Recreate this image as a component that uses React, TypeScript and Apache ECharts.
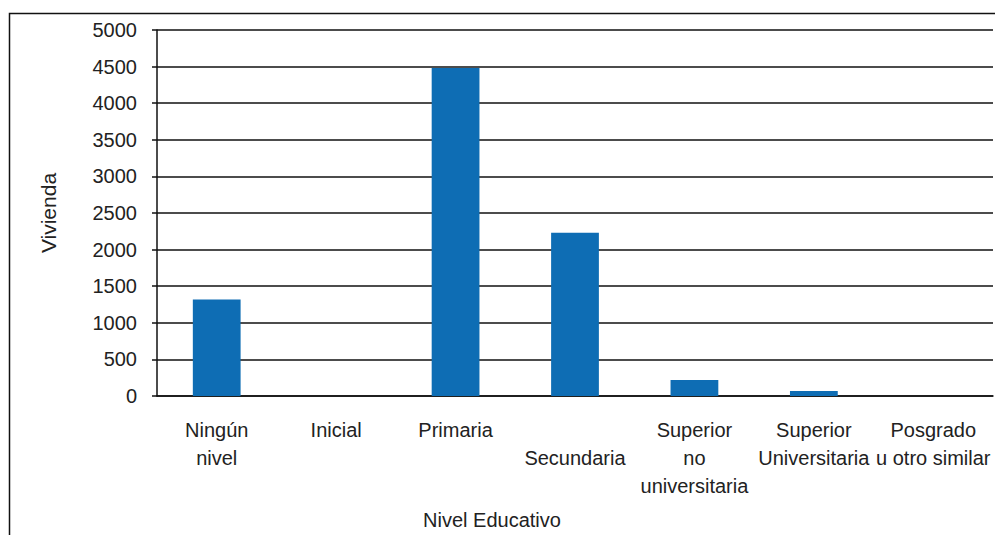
import React, { useEffect, useRef } from "react";
import * as echarts from "echarts";

// categorías del eje X (con saltos de línea como en el original)
const categories = [
	"Ningún\nnivel",
	"Inicial",
	"Primaria",
	"\nSecundaria",
	"Superior\nno\nuniversitaria",
	"Superior\nUniversitaria",
	"Posgrado\nu otro similar",
];

// viviendas por nivel educativo
const viviendas = [1320, 0, 4480, 2230, 220, 70, 0];

const yTicks = { min: 0, max: 5000, interval: 500 };

const FONT = "'Liberation Sans Narrow', 'Liberation Sans', Arial, sans-serif";

const App: React.FC = () => {
	const chartRef = useRef<HTMLDivElement>(null);

	useEffect(() => {
		if (!chartRef.current) return;
		const chart = echarts.init(chartRef.current, null, { renderer: "svg" });

		const option: echarts.EChartsOption = {
			animation: false,
			backgroundColor: "#ffffff",
			textStyle: { fontFamily: FONT, color: "#222" },
			grid: { left: 157, right: 2, top: 30, bottom: 137 },
			graphic: [
				{
					type: "rect",
					shape: { x: 9.5, y: 13.5, width: 1100, height: 700 },
					style: { fill: "none", stroke: "#111", lineWidth: 1.5 },
					silent: true,
				},
			],
			xAxis: {
				type: "category",
				data: categories,
				name: "Nivel Educativo",
				nameLocation: "middle",
				nameGap: 114,
				nameTextStyle: {
					fontFamily: FONT,
					fontSize: 20,
					color: "#222",
					padding: [0, 166, 0, 0],
				},
				axisLine: { lineStyle: { color: "#111", width: 1.5 } },
				axisTick: { length: 6, lineStyle: { color: "#111", width: 1.5 } },
				axisLabel: {
					interval: 0,
					fontFamily: FONT,
					fontSize: 20,
					lineHeight: 28,
					color: "#222",
					margin: 20,
				},
			},
			yAxis: {
				type: "value",
				min: yTicks.min,
				max: yTicks.max,
				interval: yTicks.interval,
				name: "Vivienda",
				nameLocation: "middle",
				nameGap: 98,
				nameTextStyle: { fontFamily: FONT, fontSize: 21, color: "#222" },
				axisLine: { show: true, lineStyle: { color: "#111", width: 1.5 } },
				axisTick: { show: true, length: 5, lineStyle: { color: "#111", width: 1.5 } },
				axisLabel: {
					fontFamily: FONT,
					fontSize: 20,
					color: "#222",
					margin: 20,
					formatter: (v: number) => String(v),
				},
				splitLine: { lineStyle: { color: "#111", width: 1.6 } },
			},
			series: [
				{
					type: "bar",
					data: viviendas,
					barWidth: "40%",
					itemStyle: { color: "#0e6db4" },
				},
			],
		};

		chart.setOption(option);
		return () => chart.dispose();
	}, []);

	return (
		<div
			ref={chartRef}
			style={{ position: "fixed", left: 0, top: 0, width: 995, height: 535 }}
		/>
	);
};

export default App;
